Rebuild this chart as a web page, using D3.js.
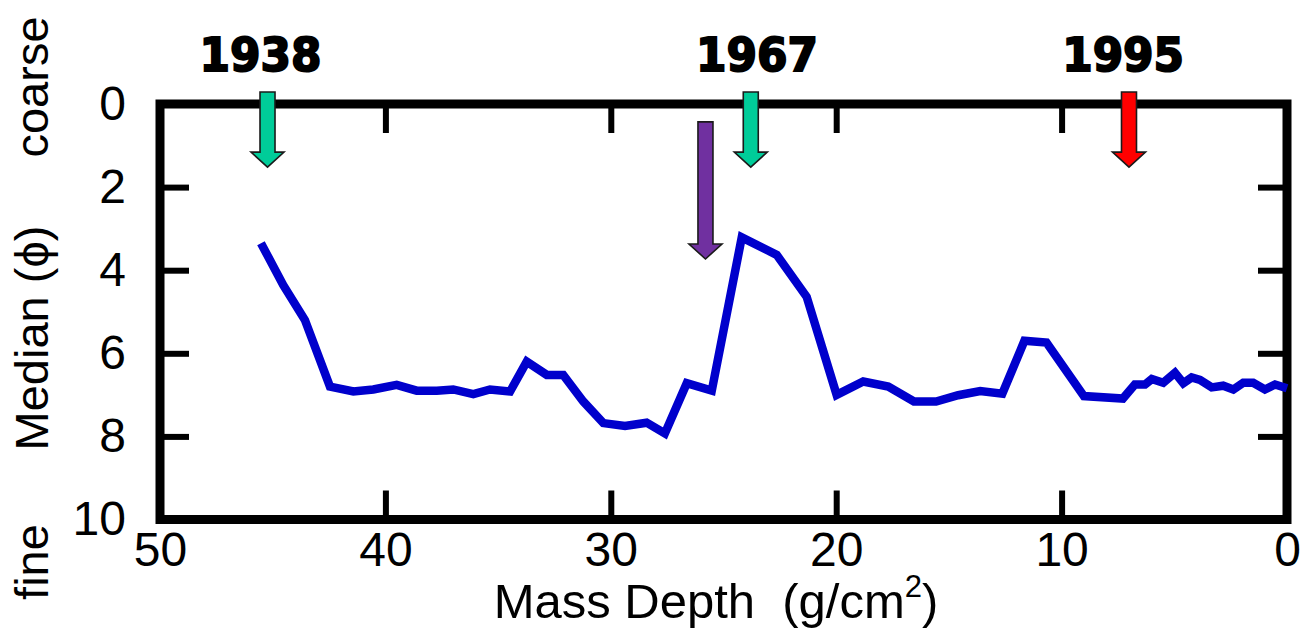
<!DOCTYPE html>
<html>
<head>
<meta charset="utf-8">
<script src="https://cdn.jsdelivr.net/npm/d3@7"></script>
<style>
  body { margin: 0; background: #fff; }
  svg { display: block; }
  text { font-family: "Liberation Sans", Arial, sans-serif; fill: #000; }
</style>
</head>
<body>
<svg id="chart" width="1303" height="631"></svg>
<script>
// mass depth (g/cm2) and median grain size (phi)
const depth = [45.52, 44.53, 43.57, 42.46, 41.42, 40.54, 39.50, 38.61, 37.72, 36.99,
  36.10, 35.36, 34.47, 33.73, 32.84, 32.11, 31.22, 30.33, 29.37, 28.41,
  27.60, 26.63, 25.52, 24.19, 22.64, 21.31, 19.98, 18.80, 17.69, 16.55,
  15.57, 14.59, 13.61, 12.63, 11.65, 10.67, 9.01, 7.28, 6.75, 6.30,
  6.00, 5.49, 4.97, 4.60, 4.23, 3.86, 3.34, 2.83, 2.38, 1.94,
  1.50, 0.98, 0.53, 0.0];
const median = [3.35, 4.36, 5.20, 6.80, 6.92, 6.87, 6.76, 6.90, 6.90, 6.87,
  6.98, 6.87, 6.92, 6.20, 6.52, 6.52, 7.16, 7.68, 7.75, 7.67,
  7.93, 6.72, 6.90, 3.21, 3.63, 4.64, 7.00, 6.68, 6.80, 7.16,
  7.16, 7.01, 6.91, 6.97, 5.70, 5.74, 7.03, 7.09, 6.75, 6.75,
  6.62, 6.71, 6.47, 6.72, 6.58, 6.64, 6.82, 6.78, 6.87, 6.71,
  6.71, 6.87, 6.75, 6.84];

const xTicks = [50, 40, 30, 20, 10, 0];
const yTicks = [0, 2, 4, 6, 8, 10];

// dated horizons: year label, arrow position (depth), arrow top/tip (phi), colour
const years = ["1938", "1967", "1995"];
const yearDepth = [45.54, 23.51, 7.27];
const arrowDepth = [45.23, 23.79, 7.01, 25.8];
const arrowTop = [-0.29, -0.29, -0.29, 0.43];
const arrowTip = [1.52, 1.52, 1.52, 3.73];
const arrowColor = ["#00cc99", "#00cc99", "#ff0000", "#7030a0"];

const svg = d3.select("#chart");
const margin = { left: 160, right: 16, top: 104, bottom: 111.5 };
const W = +svg.attr("width"), H = +svg.attr("height");

const x = d3.scaleLinear().domain([50, 0]).range([margin.left, W - margin.right]);
const y = d3.scaleLinear().domain([0, 10]).range([margin.top, H - margin.bottom]);

const tick = 29;

// axes, ticks pointing inward on all four sides
const gx = svg.append("g")
  .attr("transform", `translate(0,${y(10)})`)
  .call(d3.axisBottom(x).tickValues(xTicks).tickSize(-tick).tickPadding(12));
const gy = svg.append("g")
  .attr("transform", `translate(${x(50)},0)`)
  .call(d3.axisLeft(y).tickValues(yTicks).tickSize(-tick).tickPadding(34));
const gt = svg.append("g")
  .attr("transform", `translate(0,${y(0)})`)
  .call(d3.axisTop(x).tickValues(xTicks).tickSize(-tick).tickFormat(""));
const gr = svg.append("g")
  .attr("transform", `translate(${x(0)},0)`)
  .call(d3.axisRight(y).tickValues(yTicks).tickSize(-tick).tickFormat(""));

[gx, gy, gt, gr].forEach((g) => {
  g.attr("font-family", null);
  g.select(".domain").remove();
  g.selectAll(".tick line").attr("stroke", "#000").attr("stroke-width", 6);
  g.selectAll(".tick text")
    .style("font-family", '"Liberation Sans", Arial, sans-serif')
    .style("font-size", "48px")
    .attr("fill", "#000");
});

// frame
svg.append("rect")
  .attr("x", x(50)).attr("y", y(0))
  .attr("width", x(0) - x(50)).attr("height", y(10) - y(0))
  .attr("fill", "none").attr("stroke", "#000").attr("stroke-width", 9);

// median profile
const line = d3.line().x((d) => x(d[0])).y((d) => y(d[1]));
svg.append("path")
  .datum(d3.zip(depth, median))
  .attr("d", line)
  .attr("fill", "none")
  .attr("stroke", "#0000cc")
  .attr("stroke-width", 8.5)
  .attr("stroke-linejoin", "miter")
  .attr("stroke-linecap", "butt");

// arrows
function arrowPath(cx, top, tip) {
  const sw = 7.5, hw = 16.5, hl = 15;
  return `M${cx - sw},${top} L${cx + sw},${top} L${cx + sw},${tip - hl} L${cx + hw},${tip - hl}
          L${cx},${tip} L${cx - hw},${tip - hl} L${cx - sw},${tip - hl} Z`;
}
svg.append("g").selectAll("path")
  .data(arrowDepth.map((d, i) => ({ d, top: arrowTop[i], tip: arrowTip[i], c: arrowColor[i] })))
  .join("path")
  .attr("d", (a) => arrowPath(x(a.d), y(a.top), y(a.tip)))
  .attr("fill", (a) => a.c)
  .attr("stroke", "#1a1a1a")
  .attr("stroke-width", 1.6)
  .attr("stroke-linejoin", "miter");

// year labels
svg.append("g").selectAll("text")
  .data(years)
  .join("text")
  .attr("x", (d, i) => x(yearDepth[i]))
  .attr("y", 71)
  .attr("text-anchor", "middle")
  .attr("textLength", 122)
  .attr("lengthAdjust", "spacingAndGlyphs")
  .style("font-family", '"DejaVu Sans", sans-serif')
  .style("font-weight", "bold")
  .style("font-size", "47px")
  .attr("stroke", "#000")
  .attr("stroke-width", 2)
  .attr("stroke-linejoin", "miter")
  .text((d) => d);

// x axis title
const xt = svg.append("text")
  .attr("x", 716).attr("y", 618)
  .attr("text-anchor", "middle")
  .style("font-size", "49px")
  .attr("xml:space", "preserve");
xt.append("tspan").text("Mass Depth  (g/cm");
xt.append("tspan").attr("dy", -21).style("font-size", "31px").text("2");
xt.append("tspan").attr("dy", 21).text(")");

// y axis titles (rotated)
function vtext(label, cy) {
  svg.append("text")
    .attr("transform", `translate(48,${cy}) rotate(-90)`)
    .attr("text-anchor", "middle")
    .style("font-size", "47px")
    .text(label);
}
vtext("Median (\u03d5)", 338);
vtext("coarse", 87);
vtext("fine", 562);
</script>
</body>
</html>
